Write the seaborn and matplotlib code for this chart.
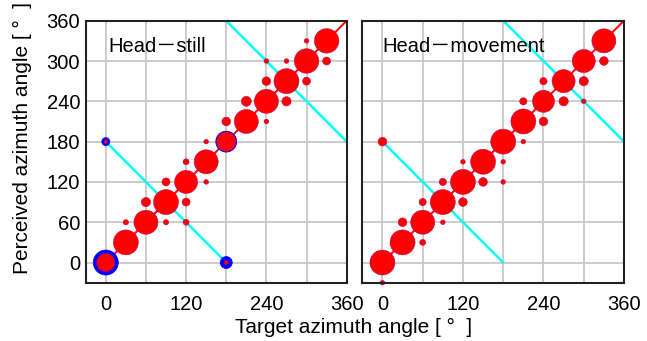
import matplotlib
matplotlib.use("Agg")
import matplotlib.pyplot as plt
import seaborn as sns
import pandas as pd

sns.set_style("white")
plt.rcParams["font.family"] = ["Liberation Sans", "Noto Sans CJK JP", "DejaVu Sans"]
plt.rcParams["text.color"] = "black"
plt.rcParams["xtick.color"] = "black"
plt.rcParams["ytick.color"] = "black"

# ---------------- data ----------------
panel_titles = ["Head\uff0dstill", "Head\uff0dmovement"]

# Head-still : red responses
still_target = [0, 30, 30, 60, 60, 90, 90, 90, 120, 120, 120, 120, 150, 150, 150,
                180, 180, 180, 210, 210, 240, 240, 240, 240, 270, 270, 270,
                300, 300, 300, 330, 330, 0]
still_perceived = [0, 30, 60, 60, 90, 60, 90, 120, 60, 90, 120, 150, 120, 150, 180,
                   180, 0, 210, 210, 240, 210, 240, 270, 300, 240, 270, 300,
                   270, 300, 330, 300, 330, 180]
still_rate = [41.5, 80, 3.6, 74, 11, 3.6, 80, 8.2, 4.6, 8.2, 68, 4.6, 2.8, 74, 2.8,
              48, 2.0, 9.7, 74, 12.8, 2.8, 74, 9.7, 2.8, 11, 80, 2.8,
              8.2, 77, 2.8, 8.2, 77, 1.6]

# Head-still : blue (front-back) responses
still_blue_target = [0, 180, 180, 0]
still_blue_perceived = [0, 180, 0, 180]
still_blue_rate = [80, 56, 18.4, 8.2]

# Head-movement : red responses
move_target = [0, 0, 0, 30, 30, 60, 60, 60, 90, 90, 90, 120, 120, 120, 150, 150,
               180, 180, 180, 210, 210, 210, 240, 240, 240, 270, 270, 300, 300, 300,
               330, 330]
move_perceived = [0, -30, 180, 30, 60, 30, 60, 90, 60, 90, 120, 90, 120, 150, 120, 150,
                  120, 150, 180, 180, 210, 240, 210, 240, 270, 240, 270, 240, 270, 300,
                  300, 330]
move_rate = [80, 2.8, 9.7, 80, 9.7, 4.6, 74, 6.8, 2.8, 80, 6.8, 9.7, 80, 2.8, 9.7, 80,
             2.8, 2.8, 80, 2.8, 80, 6.8, 9.7, 62, 6.8, 11, 68, 2.8, 11, 68,
             9.7, 74]

# reference lines
diag_x = [0, 360]
diag_y = [0, 360]
mirror1_x = [0, 180]
mirror1_y = [180, 0]
mirror2_x = [180, 360]
mirror2_y = [360, 180]

tick_vals = [0, 60, 120, 180, 240, 300, 360]
xtick_labels = ["0", "", "120", "", "240", "", "360"]
ytick_labels = ["0", "60", "120", "180", "240", "300", "360"]

# ---------------- figure ----------------
fig = plt.figure(figsize=(6.47, 3.41), dpi=100)
W, H = 647, 341
ax1 = fig.add_axes([85.7 / W, 1 - 282.7 / H, 261 / W, 262 / H])
ax2 = fig.add_axes([362.3 / W, 1 - 282.7 / H, 261.7 / W, 262 / H])

still_df = pd.DataFrame({"t": still_target, "p": still_perceived, "r": still_rate})
still_blue_df = pd.DataFrame({"t": still_blue_target, "p": still_blue_perceived,
                              "r": still_blue_rate})
move_df = pd.DataFrame({"t": move_target, "p": move_perceived, "r": move_rate})

SIZES = (0, 405)
NORM = (0, 100)

for ax, df, blue, title, tx in [(ax1, still_df, still_blue_df, panel_titles[0], 0.085),
                                (ax2, move_df, None, panel_titles[1], 0.075)]:
    ax.set_xlim(-30, 360)
    ax.set_ylim(-30, 360)
    ax.set_axisbelow(True)
    ax.grid(True, color="#c8c8c8", linewidth=1.3)
    ax.plot(mirror1_x, mirror1_y, color="#00ffff", linewidth=1.8, zorder=2)
    ax.plot(mirror2_x, mirror2_y, color="#00ffff", linewidth=1.8, zorder=2)
    ax.plot(diag_x, diag_y, color="red", linewidth=1.4, zorder=2)
    if blue is not None:
        sns.scatterplot(data=blue, x="t", y="p", size="r", sizes=SIZES, size_norm=NORM,
                        color="blue", edgecolor="blue", linewidth=0.5, legend=False,
                        ax=ax, zorder=3, clip_on=False)
    sns.scatterplot(data=df, x="t", y="p", size="r", sizes=SIZES, size_norm=NORM,
                    color="red", edgecolor="#b0006a", linewidth=0.35, legend=False,
                    ax=ax, zorder=4, clip_on=False)
    ax.set_xticks(tick_vals)
    ax.set_xticklabels(xtick_labels)
    ax.set_yticks(tick_vals)
    ax.set_xlabel("")
    ax.set_ylabel("")
    ax.tick_params(length=0, labelsize=14.5, pad=9, axis="x")
    ax.tick_params(length=0, labelsize=14.5, pad=4, axis="y")
    for sp in ax.spines.values():
        sp.set_color("#222222")
        sp.set_linewidth(1.5)
        sp.set_zorder(5)
    ax.text(tx, 0.903, title, transform=ax.transAxes, fontsize=14.5, va="center",
            ha="left", zorder=6)

ax1.set_yticklabels(ytick_labels)
ax2.set_yticklabels([])

fig.text(0.546, 0.041, "Target azimuth angle [ \u00b0  ]", fontsize=15,
         ha="center", va="center")
fig.text(0.034, 0.595, "Perceived azimuth angle [ \u00b0  ]", fontsize=15,
         ha="center", va="center", rotation=90)

fig.savefig("out.png", dpi=100)
